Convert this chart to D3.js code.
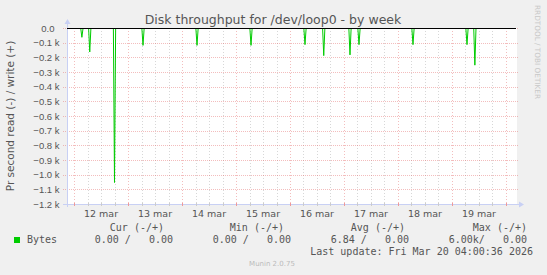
<!DOCTYPE html>
<meta charset="utf-8">
<style>
body { margin: 0; background: #f0f0f0; }
svg { display: block; font-family: "DejaVu Sans", sans-serif; }
.mono { font-family: "DejaVu Sans Mono", monospace; font-size: 10px; fill: #555; white-space: pre; }
.tick text { fill: #555; font-size: 9.5px; }
</style>
<svg width="547" height="275"></svg>
<script src="https://d3js.org/d3.v7.min.js"></script>
<script>

// spikes of read throughput (negative = read), week view
var spikeTimes = ["2026-03-12 03:30", "2026-03-12 07:00", "2026-03-12 18:00", "2026-03-13 06:40",
                  "2026-03-14 06:40", "2026-03-15 06:40", "2026-03-16 06:40", "2026-03-16 15:00",
                  "2026-03-17 02:40", "2026-03-17 06:40", "2026-03-18 06:40", "2026-03-19 06:40",
                  "2026-03-19 10:10"];
var spikeValues = [-0.06, -0.16, -1.05, -0.115, -0.115, -0.115, -0.11, -0.185, -0.18, -0.11, -0.11, -0.11, -0.25];

var yTicks = [0, -0.1, -0.2, -0.3, -0.4, -0.5, -0.6, -0.7, -0.8, -0.9, -1.0, -1.1, -1.2];
var dayLabels = ["12 mar", "13 mar", "14 mar", "15 mar", "16 mar", "17 mar", "18 mar", "19 mar"];
var legendHeads = ["Cur (-/+)", "Min (-/+)", "Avg (-/+)", "Max (-/+)"];
var legendVals = ["0.00 /   0.00", "0.00 /   0.00", "6.84 /   0.00", "6.00k/   0.00"];

var parse = d3.timeParse("%Y-%m-%d %H:%M");
var start = parse("2026-03-11 20:53"), end = parse("2026-03-20 04:27");

var svg = d3.select("svg");
var pL = 67, pR = 516, pT = 28, pB = 204;

var x = d3.scaleTime().domain([start, end]).range([pL, pR]);
var y = d3.scaleLinear().domain([-1.2, 0]).range([pB, pT]);

var redGrid = "rgba(225,90,90,0.4)", grayGrid = "rgba(140,140,140,0.35)";

// plot background
svg.append("rect").attr("x", pL).attr("y", pT).attr("width", pR - pL + 1).attr("height", pB - pT)
  .attr("fill", "#fff");

// grid
var grid = svg.append("g").attr("shape-rendering", "crispEdges");
grid.selectAll(".minor").data(d3.timeHour.every(6).range(start, end))
  .enter().append("line")
  .attr("x1", function(d) { return Math.round(x(d)) + 0.5; })
  .attr("x2", function(d) { return Math.round(x(d)) + 0.5; })
  .attr("y1", pT).attr("y2", pB + 2)
  .attr("stroke", function(d) { return d.getHours() === 0 ? redGrid : grayGrid; })
  .attr("stroke-dasharray", "1,2");

grid.selectAll(".hz").data(yTicks)
  .enter().append("line")
  .attr("x1", pL - 4).attr("x2", pR + 2)
  .attr("y1", function(d) { return Math.round(y(d)) + 0.5; })
  .attr("y2", function(d) { return Math.round(y(d)) + 0.5; })
  .attr("stroke", redGrid)
  .attr("stroke-dasharray", "1,1");

// axes lines with arrows
var axisCol = "#c8d0f4";
svg.append("line").attr("x1", pL + 0.5).attr("x2", pL + 0.5).attr("y1", pB + 3).attr("y2", 22)
  .attr("stroke", axisCol);
svg.append("path").attr("d", "M" + (pL - 2.5) + ",24L" + (pL + 3.5) + ",24L" + (pL + 0.5) + ",19Z").attr("fill", axisCol);
svg.append("line").attr("x1", pL - 4).attr("x2", pR + 4).attr("y1", pB + 0.5).attr("y2", pB + 0.5)
  .attr("stroke", axisCol);
svg.append("path").attr("d", "M" + (pR + 3) + "," + (pB - 2.5) + "L" + (pR + 3) + "," + (pB + 3.5) + "L" + (pR + 8) + "," + (pB + 0.5) + "Z").attr("fill", axisCol);

// x tick marks
svg.append("g").selectAll("line").data(d3.timeHour.every(6).range(start, end))
  .enter().append("line")
  .attr("x1", function(d) { return Math.round(x(d)) + 0.5; })
  .attr("x2", function(d) { return Math.round(x(d)) + 0.5; })
  .attr("y1", pB - 1).attr("y2", pB + 2)
  .attr("stroke", function(d) { return d.getHours() === 0 ? "#e99" : "#ccc"; });

// y axis labels
var yAxis = d3.axisLeft(y).tickValues(yTicks).tickSize(0).tickPadding(0)
  .tickFormat(function(d) { return d === 0 ? "0.0" : d3.format(".1f")(d) + " k"; });
var gy = svg.append("g").attr("transform", "translate(59.5,0)").call(yAxis);
gy.select(".domain").remove();
gy.selectAll("text").attr("dy", "0.35em").attr("dx", function(d) { return d === 0 ? -5 : 0; });

// day labels at noon
var days = d3.timeDay.range(d3.timeDay.ceil(start), end);
svg.append("g").attr("class", "tick").selectAll("text").data(days)
  .enter().append("text")
  .attr("x", function(d) { return x(d3.timeHour.offset(d, 12)); })
  .attr("y", 217)
  .attr("text-anchor", "middle")
  .text(function(d, i) { return dayLabels[i]; });

// data line
var pts = [[start, 0]];
spikeTimes.forEach(function(t, i) {
  var d = parse(t);
  pts.push([d3.timeMinute.offset(d, -30), 0], [d, spikeValues[i]], [d3.timeMinute.offset(d, 30), 0]);
});
pts.push([end, 0]);
svg.append("path").datum(pts)
  .attr("fill", "none").attr("stroke", "#00cc00").attr("stroke-width", 1)
  .attr("d", d3.line().x(function(d) { return x(d[0]); }).y(function(d) { return y(d[1]) + 0.5; }));

// zero line
svg.append("line").attr("x1", pL).attr("x2", pR).attr("y1", pT + 0.5).attr("y2", pT + 0.5)
  .attr("stroke", "#000").attr("shape-rendering", "crispEdges");

// titles
svg.append("text").attr("x", 273).attr("y", 23.5).attr("text-anchor", "middle")
  .attr("font-size", "12.5px").attr("fill", "#555").text("Disk throughput for /dev/loop0 - by week");
svg.append("text").attr("transform", "translate(14," + ((pT + pB) / 2) + ") rotate(-90)")
  .attr("text-anchor", "middle").attr("font-size", "10.5px").attr("fill", "#555")
  .text("Pr second read (-) / write (+)");
svg.append("text").attr("transform", "translate(535,5) rotate(90)")
  .attr("font-size", "7.3px").attr("fill", "#c8c8c8").text("RRDTOOL / TOBI OETIKER");

// legend
svg.append("rect").attr("x", 14).attr("y", 237).attr("width", 6).attr("height", 6).attr("fill", "#00cc00");
svg.append("text").attr("class", "mono").attr("x", 27).attr("y", 243).text("Bytes");
var colEnd = [164, 284, 405, 527];
var valEnd = [173, 291, 409, 527];
legendHeads.forEach(function(h, i) {
  svg.append("text").attr("class", "mono").attr("x", colEnd[i]).attr("y", 231).attr("text-anchor", "end").text(h);
  svg.append("text").attr("class", "mono").attr("x", valEnd[i]).attr("y", 243).attr("text-anchor", "end").text(legendVals[i]);
});
svg.append("text").attr("class", "mono").attr("x", 533).attr("y", 255).attr("text-anchor", "end")
  .text("Last update: Fri Mar 20 04:00:36 2026");
svg.append("text").attr("x", 272).attr("y", 266).attr("text-anchor", "middle")
  .attr("font-size", "7px").attr("fill", "#bbb").text("Munin 2.0.75");

</script>
